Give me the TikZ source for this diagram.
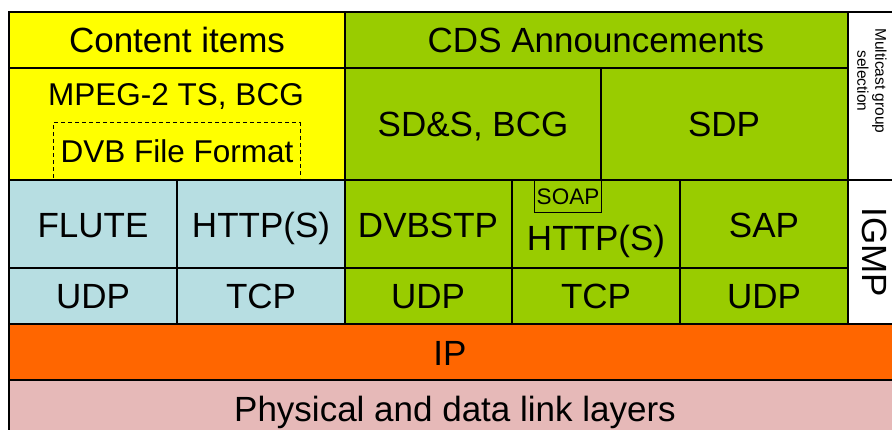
\documentclass[tikz,border=0pt]{standalone}
\usepackage{fontspec}
\setmainfont{Liberation Sans}
\usetikzlibrary{positioning}
\definecolor{cyellow}{HTML}{FFFF00}
\definecolor{cgreen}{HTML}{99CC00}
\definecolor{cblue}{HTML}{B7DEE2}
\definecolor{corange}{HTML}{FF6600}
\definecolor{cpink}{HTML}{E6B9B8}

\begin{document}
\begin{tikzpicture}[x=1pt, y=-1pt,
  cell/.style={draw=black, line width=1.3pt},
  lbl/.style={font=\fontsize{35}{40}\selectfont, anchor=base, inner sep=0pt},
  mid/.style={font=\fontsize{31.5}{36}\selectfont, anchor=base, inner sep=0pt},
  small/.style={font=\fontsize{22.5}{26}\selectfont, anchor=base, inner sep=0pt}]
\useasboundingbox (0,0) rectangle (892,430);
\clip (0,0) rectangle (892,430);
\fill[white] (0,0) rectangle (892,430);
% application layer
\draw[cell, fill=cyellow] (9,12) rectangle (345,68);
\draw[cell, fill=cgreen] (345,12) rectangle (848,68);
\draw[cell, fill=white] (848,12) rectangle (901,180);
\draw[cell, fill=cyellow] (9,68) rectangle (345,180);
\draw[cell, fill=cgreen] (345,68) rectangle (601,180);
\draw[cell, fill=cgreen] (601,68) rectangle (848,180);
\draw[line width=1pt, dash pattern=on 4pt off 3pt] (53,178) -- (53,123) -- (300,123) -- (300,178);
% transport rows
\draw[cell, fill=cblue] (9,180) rectangle (177,268);
\draw[cell, fill=cblue] (177,180) rectangle (345,268);
\draw[cell, fill=cblue] (9,268) rectangle (177,324);
\draw[cell, fill=cblue] (177,268) rectangle (345,324);
\draw[cell, fill=cgreen] (345,180) rectangle (512,268);
\draw[cell, fill=cgreen] (512,180) rectangle (680,268);
\draw[cell, fill=cgreen] (680,180) rectangle (848,268);
\draw[cell, fill=cgreen] (345,268) rectangle (512,324);
\draw[cell, fill=cgreen] (512,268) rectangle (680,324);
\draw[cell, fill=cgreen] (680,268) rectangle (848,324);
\draw[cell, fill=white] (848,180) rectangle (901,324);
\draw[line width=1pt] (534,180) rectangle (601,213);
% network and link
\draw[cell, fill=corange] (9,324) rectangle (901,380);
\draw[cell, fill=cpink] (9,380) rectangle (901,440);
% labels
\node[lbl] (content) at (177,53) {Content items};
\node[lbl] (cds) at (596,53) {CDS Announcements};
\node[mid] (mpeg) at (176,106) {MPEG-2 TS, BCG};
\node[mid] (dvbff) at (177,163) {DVB File Format};
\node[lbl] (sdsbcg) at (473,137) {SD\&S, BCG};
\node[lbl] (sdp) at (724,137) {SDP};
\node[font=\fontsize{15.5}{18}\selectfont, align=center, rotate=-90, inner sep=0pt] (mcast) at (872,81) {Multicast group\\selection};
\node[lbl] (flute) at (93,238) {FLUTE};
\node[lbl] (httpa) at (261,238) {HTTP(S)};
\node[lbl] (dvbstp) at (428,238) {DVBSTP};
\node[small] (soap) at (568,205) {SOAP};
\node[lbl] (httpb) at (596,251) {HTTP(S)};
\node[lbl] (sap) at (764,238) {SAP};
\node[font=\fontsize{35}{40}\selectfont, rotate=-90, inner sep=0pt] (igmp) at (875,252) {IGMP};
\node[lbl] (udpa) at (93,309) {UDP};
\node[lbl] (tcpa) at (261,309) {TCP};
\node[lbl] (udpb) at (428,309) {UDP};
\node[lbl] (tcpb) at (596,309) {TCP};
\node[lbl] (udpc) at (764,309) {UDP};
\node[lbl] (ip) at (450,366) {IP};
\node[lbl] (phy) at (455,421) {Physical and data link layers};
\end{tikzpicture}
\end{document}
